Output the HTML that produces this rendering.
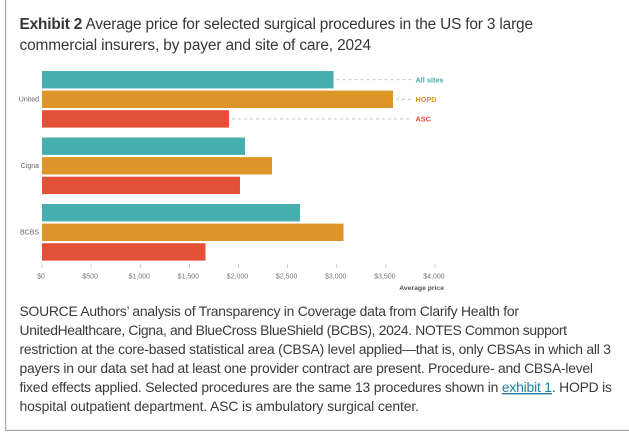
<!DOCTYPE html>
<html lang="en">
<head>
<meta charset="utf-8">
<title>Exhibit 2</title>
<style>
html,body{margin:0;padding:0;background:#fff;width:629px;height:434px;overflow:hidden}
svg{display:block;font-family:"Liberation Sans",sans-serif}
.t{font-size:15.4px;fill:#363636}
.n{font-size:13.9px;fill:#3a3a3a}
a{cursor:pointer}
</style>
</head>
<body>
<svg id="chart" width="629" height="434" viewBox="0 0 629 434" xmlns="http://www.w3.org/2000/svg">
  <rect x="5" y="0" width="1.2" height="431" fill="#aaaaaa"/>
  <rect x="5" y="429.8" width="624" height="1.2" fill="#aaaaaa"/>
  <text class="t" x="19.5" y="29" textLength="513.5"><tspan font-weight="700">Exhibit 2</tspan> Average price for selected surgical procedures in the US for 3 large</text>
  <text class="t" x="19.5" y="50" textLength="351.5">commercial insurers, by payer and site of care, 2024</text>
  <g id="plot"></g>
  <text class="n" x="19.5" y="316" textLength="499.5">SOURCE Authors’ analysis of Transparency in Coverage data from Clarify Health for</text>
  <text class="n" x="19.5" y="335" textLength="547.5">UnitedHealthcare, Cigna, and BlueCross BlueShield (BCBS), 2024. NOTES Common support</text>
  <text class="n" x="19.5" y="354" textLength="591.5">restriction at the core-based statistical area (CBSA) level applied—that is, only CBSAs in which all 3</text>
  <text class="n" x="19.5" y="373" textLength="573.5">payers in our data set had at least one provider contract are present. Procedure- and CBSA-level</text>
  <text class="n" x="19.5" y="392" textLength="592.5">fixed effects applied. Selected procedures are the same 13 procedures shown in <tspan fill="#1f7fa3" text-decoration="underline">exhibit 1</tspan>. HOPD is</text>
  <text class="n" x="19.5" y="411" textLength="399.5">hospital outpatient department. ASC is ambulatory surgical center.</text>
</svg>
<script>
const payers = ['United', 'Cigna', 'BCBS'];
const seriesNames = ['All sites', 'HOPD', 'ASC'];
const allSites = [2967, 2066, 2626];
const hopd = [3573, 2341, 3069];
const asc = [1903, 2015, 1664];
const tickValues = [0, 500, 1000, 1500, 2000, 2500, 3000, 3500, 4000];
const tickLabels = ['$0', '$500', '$1,000', '$1,500', '$2,000', '$2,500', '$3,000', '$3,500', '$4,000'];

const seriesValues = [allSites, hopd, asc];
const seriesColors = ['#46aeae', '#dd9528', '#e44f37'];
const plot = document.getElementById('plot');
const NS = 'http://www.w3.org/2000/svg';
function xScale(v) { return 42 + v * 0.09825; }
function groupTop(i) { return 71 + i * 66.5; }
function barTop(g, s) { return groupTop(g) + s * 19.6; }
const BAR_H = 17.4;
function make(tag, attrs, text) {
  const el = document.createElementNS(NS, tag);
  for (const k in attrs) el.setAttribute(k, attrs[k]);
  if (text !== undefined) el.textContent = text;
  plot.appendChild(el);
  return el;
}
tickValues.forEach(function (v, i) {
  const tick = make('line', {x1: xScale(v), x2: xScale(v), y1: 264, y2: 268, stroke: '#c4c4c4', 'stroke-width': 0.8});
  
  
  const lab = make('text', {x: xScale(v) - 1, y: 278.5, 'text-anchor': 'middle', 'font-size': 7, fill: '#777'}, tickLabels[i]);
  
  
});
payers.forEach(function (p, g) {
  const lab = make('text', {x: 39, y: barTop(g, 1) + BAR_H / 2 + 2.4, 'text-anchor': 'end', 'font-size': 7, fill: '#666'}, p);
  
  
  seriesValues.forEach(function (vals, s) {
    const bar = make('rect', {x: xScale(0), y: barTop(g, s), width: xScale(vals[g]) - xScale(0), height: BAR_H, fill: seriesColors[s]});
    
    
  });
});
seriesNames.forEach(function (name, s) {
  const y = barTop(0, s) + BAR_H / 2;
  const dash = make('line', {x1: xScale(seriesValues[s][0]) + 3, x2: 411, y1: y, y2: y, stroke: '#bdbdbd', 'stroke-width': 0.9, 'stroke-dasharray': '3 3'});
  
  
  const lab = make('text', {x: 415.5, y: y + 2.6, 'font-size': 7.3, 'font-weight': 700, fill: seriesColors[s]}, name);
  
  
});
const axisTitle = make('text', {x: 444, y: 290, 'text-anchor': 'end', 'font-size': 6.8, 'font-weight': 700, fill: '#555'}, 'Average price');


</script>
</body>
</html>
